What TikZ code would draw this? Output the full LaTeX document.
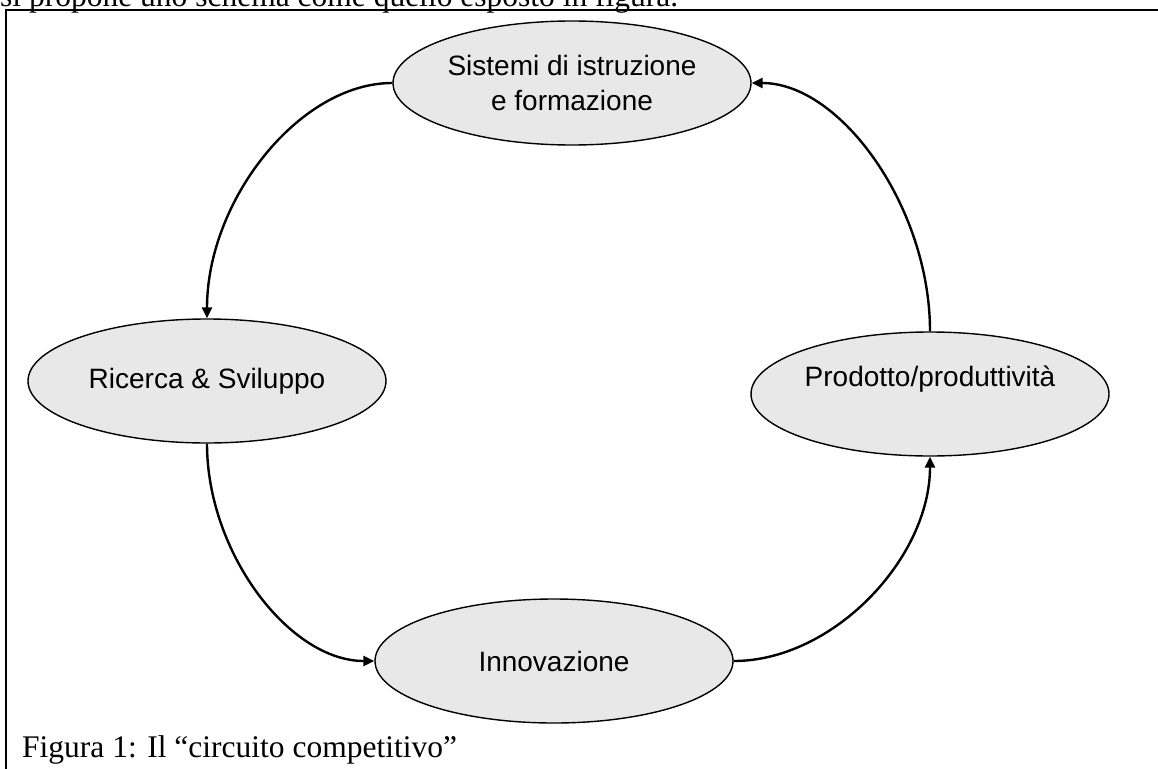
\documentclass[tikz,border=0pt]{standalone}
\usepackage{fontspec}
\setmainfont{Liberation Serif}
\newfontfamily\arialfont{Liberation Sans}
\usetikzlibrary{shapes.geometric,arrows.meta,calc}
\definecolor{ellfill}{RGB}{232,232,232}
\begin{document}
\begin{tikzpicture}[x=1pt,y=-1pt,
  bubble/.style={ellipse, draw=black, line width=1.4pt, fill=ellfill,
    minimum width=358pt, minimum height=124pt, inner sep=0pt, align=center,
    font=\arialfont\fontsize{28}{35}\selectfont},
  link/.style={line width=2.4pt, -{Triangle[length=11pt,width=10pt]}},
  serif/.style={font=\fontsize{31.5}{38}\selectfont, inner sep=0pt, anchor=base west},
  frame/.style={line width=2.8pt}]
\useasboundingbox (0,0) rectangle (1158,768);
% partially visible text line above the frame
\node[serif] (intro) at (0,7) {si propone uno schema come quello esposto in figura.};
% frame (only the top and left edges fall inside the picture)
\coordinate (fbl) at (6,790);
\coordinate (ftl) at (6,10);
\coordinate (ftr) at (1180,10);
\draw[frame] (fbl) -- (ftl) -- (ftr);
% ellipses
\node[bubble] (sis) at (572,83) {Sistemi di istruzione\\e formazione};
\node[bubble] (ric) at (207,381) {Ricerca \& Sviluppo};
\node[bubble] (pro) at (930,394) {Prodotto/produttività\\\mbox{}};
\node[bubble] (inn) at (554,661) {Innovazione};
% connectors
\draw[link] (sis.west) .. controls ($(sis.west)+(-93,0)$) and ($(ric.north)+(0,-118)$) .. (ric.north);
\draw[link] (ric.south) .. controls ($(ric.south)+(0,109)$) and ($(inn.west)+(-85,0)$) .. (inn.west);
\draw[link] (inn.east) .. controls ($(inn.east)+(99,0)$) and ($(pro.south)+(0,102)$) .. (pro.south);
\draw[link] (pro.north) .. controls ($(pro.north)+(0,-124)$) and ($(sis.east)+(89,0)$) .. (sis.east);
% caption
\node[serif] (cap) at (22,757) {Figura 1: Il “circuito competitivo”};
\end{tikzpicture}
\end{document}
